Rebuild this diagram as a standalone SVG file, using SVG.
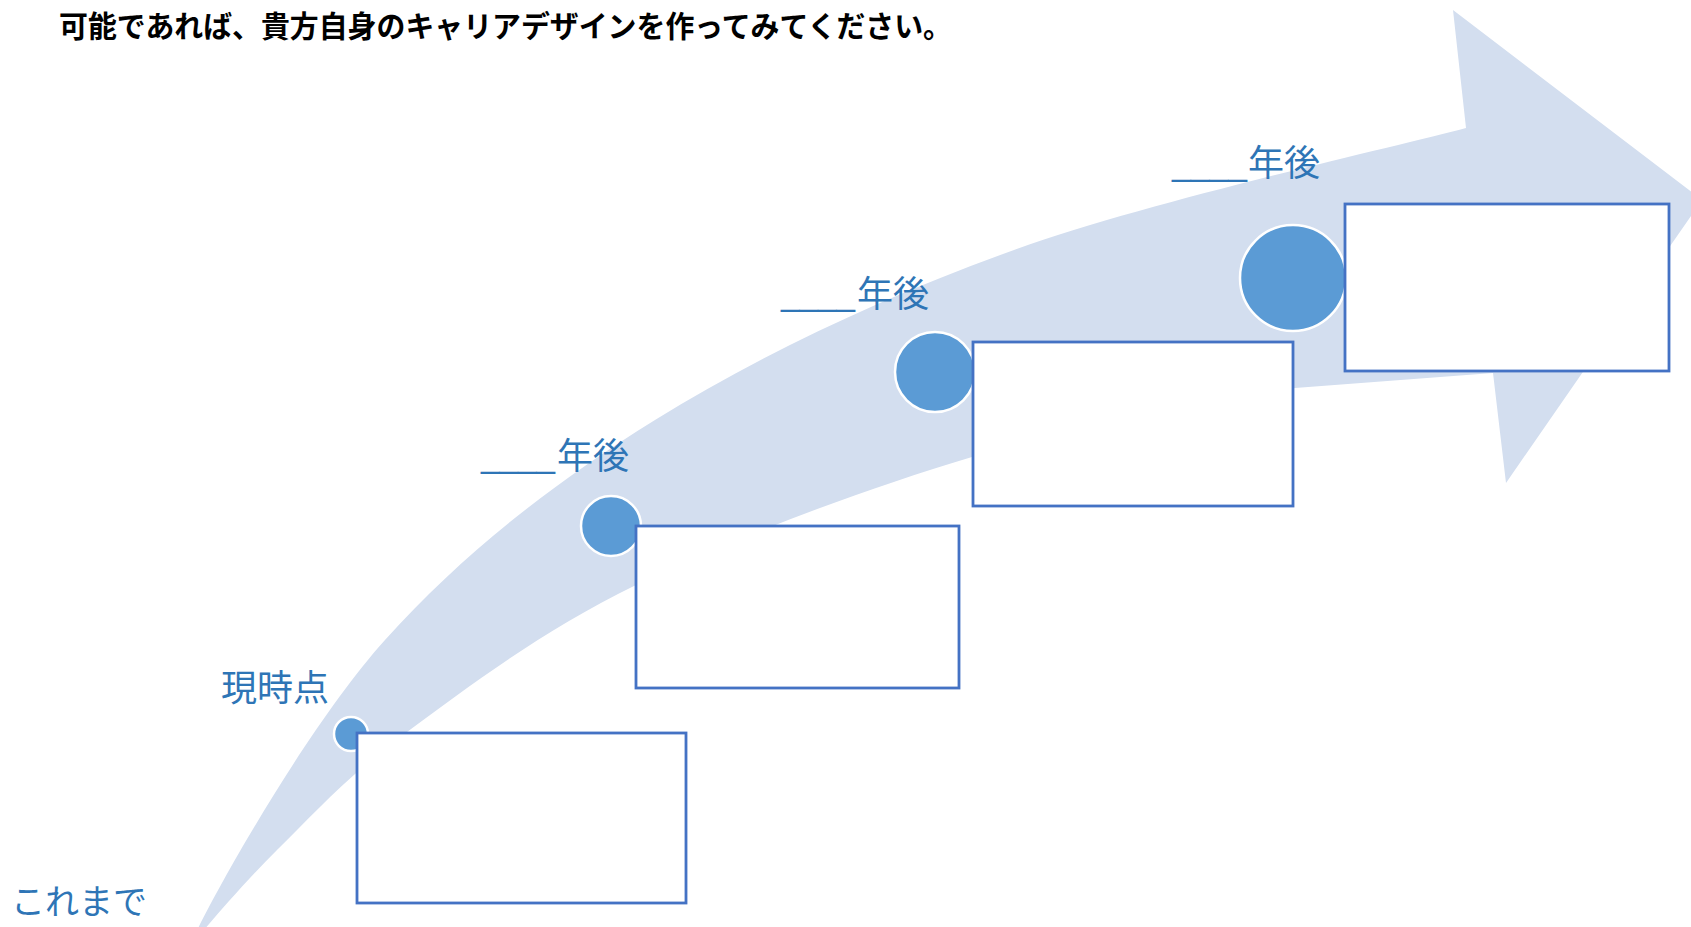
<svg xmlns="http://www.w3.org/2000/svg" width="1691" height="927" viewBox="0 0 1691 927">
<style>
.lbl{font-family:"Noto Sans CJK JP","Noto Sans",sans-serif;font-size:36px;fill:#2E75B6}
.us{font-family:"Liberation Sans",sans-serif;font-size:36px;fill:#2E75B6}
.dot{fill:#5B9BD5;stroke:#FFFFFF;stroke-width:2.5}
.box{fill:#FFFFFF;stroke:#4472C4;stroke-width:2.8}
.title{font-family:"Noto Sans CJK JP","Noto Sans",sans-serif;font-size:29.5px;font-weight:700;fill:#000000}
</style>
<rect x="0" y="0" width="1691" height="927" fill="#FFFFFF"/>
<g id="connectors">
<path id="arrow" fill="#D3DEEF" d="M189,947 C214,892 308.5,725 385,640 C461.5,555 550.2,485 655,420 C759.8,355 878.8,298.7 1014,250 C1149.2,201.3 1391,148 1466,128 L1453,10 L1702,200 L1506,483 L1493,373 L1295,388 C1208.2,402 1081.8,424.2 972,457 C862.2,489.8 730.2,539.2 636,585 C541.8,630.8 466.8,687.8 407,732 C347.2,776.2 313.3,814.2 277,850 C240.7,885.8 203.7,930.8 189,947 Z"/>
</g>
<g id="title">
<text class="title" x="59" y="37" textLength="893" lengthAdjust="spacingAndGlyphs">可能であれば、貴方自身のキャリアデザインを作ってみてください。</text>
</g>
<g id="label-past">
<text class="lbl" x="11" y="914" style="font-size:34px">これまで</text>
</g>
<g id="node-now">
<text class="lbl" x="221" y="701">現時点</text>
<circle class="dot" cx="351" cy="734" r="17"/>
<rect class="box" x="357" y="733" width="329" height="170"/>
</g>
<g id="node-step1">
<text class="us" x="481" y="467" textLength="74" lengthAdjust="spacingAndGlyphs">____</text>
<text class="lbl" x="557" y="469">年後</text>
<circle class="dot" cx="611" cy="526" r="30"/>
<rect class="box" x="636" y="526" width="323" height="162"/>
</g>
<g id="node-step2">
<text class="us" x="781" y="305" textLength="74" lengthAdjust="spacingAndGlyphs">____</text>
<text class="lbl" x="857" y="307">年後</text>
<circle class="dot" cx="935" cy="372" r="40"/>
<rect class="box" x="973" y="342" width="320" height="164"/>
</g>
<g id="node-step3">
<text class="us" x="1172" y="175" textLength="75" lengthAdjust="spacingAndGlyphs">____</text>
<text class="lbl" x="1248" y="176">年後</text>
<circle class="dot" cx="1293" cy="278" r="53"/>
<rect class="box" x="1345" y="204" width="324" height="167"/>
</g>
</svg>
